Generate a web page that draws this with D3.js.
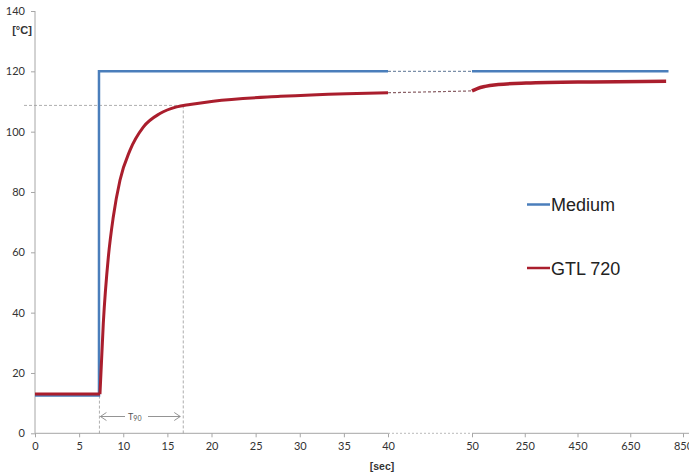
<!DOCTYPE html>
<html>
<head>
<meta charset="utf-8">
<script src="https://cdn.jsdelivr.net/npm/d3@7"></script>
<style>
  body { margin: 0; background: #fff; }
  .axis text { font-family: Lato, "Open Sans", sans-serif; font-size: 11px; fill: #333; }
  .axis line { stroke: #a6a6a6; }
  .axis path { display: none; }
</style>
</head>
<body>
<div id="graph"></div>
<script>
// Medium (bath) temperature, two segments either side of the axis break
var mediumTimeA = [0, 7.25, 7.25, 40];
var mediumTempA = [12.5, 12.5, 120, 120];
var mediumTimeB = [50, 795];
var mediumTempB = [120, 120];

// GTL 720 sensor reading: flat start, then the response curve
var gtlTimeFlat = [0, 7.36];
var gtlTempFlat = [13, 13];
var gtlTimeA = [7.36, 7.74, 8.31, 8.87, 9.63, 10.76, 12.27, 14.16, 16.05, 17.56, 20.2, 27.8, 35.3, 40];
var gtlTempA = [13, 36.5, 58.4, 71.7, 83.9, 93.8, 101.5, 106, 108.2, 109, 110.1, 111.7, 112.6, 112.9];
var gtlTimeB = [50, 70, 100, 150, 255, 505, 786];
var gtlTempB = [113.5, 114.3, 115.0, 115.6, 116.1, 116.5, 116.7];

var xTicks = [0, 5, 10, 15, 20, 25, 30, 35, 40, 50, 250, 450, 650, 850];
var yTicks = [0, 20, 40, 60, 80, 100, 120, 140];

// T90 marker
var t90Start = 7.3, t90End = 16.8, t90Level = 108.7;

var seriesNames = ["Medium", "GTL 720"];
var colors = { "Medium": "#4a7ebb", "GTL 720": "#aa1e2d" };

var width = 689, height = 473;

var svg = d3.select("#graph").append("svg")
    .attr("width", width)
    .attr("height", height);

// broken x axis: linear 0-40, a gap, then 50-850 compressed
var xScale = d3.scaleLinear()
    .domain([0, 40, 50, 850])
    .range([35, 388, 472, 683]);

var yScale = d3.scaleLinear()
    .domain([0, 140])
    .range([433.3, 11]);

function zip(t, v) {
    return t.map(function(d, i) { return { t: d, v: v[i] }; });
}

var line = d3.line()
    .x(function(d) { return xScale(d.t); })
    .y(function(d) { return yScale(d.v); });

var curve = d3.line()
    .x(function(d) { return xScale(d.t); })
    .y(function(d) { return yScale(d.v); })
    .curve(d3.curveMonotoneX);

// axes
svg.append("g")
    .attr("class", "y axis")
    .attr("transform", "translate(" + xScale(0) + ",0)")
    .call(d3.axisLeft(yScale).tickValues(yTicks).tickSize(4).tickPadding(6));

svg.append("g")
    .attr("class", "x axis")
    .attr("transform", "translate(0," + yScale(0) + ")")
    .call(d3.axisBottom(xScale).tickValues(xTicks).tickSize(4).tickPadding(5));

// axis lines drawn by hand so the break can be dotted
svg.append("line")
    .attr("x1", xScale(0)).attr("x2", xScale(0))
    .attr("y1", yScale(0)).attr("y2", yScale(140))
    .attr("stroke", "#a6a6a6");
svg.append("line")
    .attr("x1", xScale(0)).attr("x2", xScale(40))
    .attr("y1", yScale(0)).attr("y2", yScale(0))
    .attr("stroke", "#a6a6a6");
svg.append("line")
    .attr("x1", xScale(40)).attr("x2", xScale(50))
    .attr("y1", yScale(0)).attr("y2", yScale(0))
    .attr("stroke", "#bbb")
    .attr("stroke-dasharray", "2,2");
svg.append("line")
    .attr("x1", xScale(50)).attr("x2", width)
    .attr("y1", yScale(0)).attr("y2", yScale(0))
    .attr("stroke", "#a6a6a6");

// unit labels
svg.append("text")
    .attr("x", 22).attr("y", 34)
    .attr("text-anchor", "middle")
    .style("font-family", "\"Liberation Sans\", Arial, sans-serif")
    .style("font-size", "11px")
    .style("font-weight", "bold")
    .style("fill", "#333")
    .text("[°C]");

svg.append("text")
    .attr("x", 382).attr("y", 470)
    .attr("text-anchor", "middle")
    .style("font-family", "\"Liberation Sans\", Arial, sans-serif")
    .style("font-size", "10.5px")
    .style("font-weight", "bold")
    .style("fill", "#333")
    .text("[sec]");

// T90 guide lines
var guide = svg.append("g")
    .attr("stroke", "#999")
    .attr("stroke-width", 0.8)
    .attr("stroke-dasharray", "3,2");
guide.append("line")
    .attr("x1", 24).attr("x2", xScale(t90End))
    .attr("y1", yScale(t90Level)).attr("y2", yScale(t90Level));
guide.append("line")
    .attr("x1", xScale(t90End)).attr("x2", xScale(t90End))
    .attr("y1", yScale(t90Level)).attr("y2", yScale(0));
guide.append("line")
    .attr("x1", xScale(t90Start)).attr("x2", xScale(t90Start))
    .attr("y1", yScale(12.5)).attr("y2", yScale(0));

// T90 arrows
var arrowY = 416.5;
var arrows = svg.append("g")
    .attr("stroke", "#888")
    .attr("stroke-width", 0.9)
    .attr("fill", "none");
var ax0 = xScale(t90Start) + 1, ax1 = xScale(t90End) - 3;
arrows.append("line").attr("x1", ax0).attr("x2", 125).attr("y1", arrowY).attr("y2", arrowY);
arrows.append("path").attr("d", "M" + (ax0 + 6) + "," + (arrowY - 4) + "L" + ax0 + "," + arrowY + "L" + (ax0 + 6) + "," + (arrowY + 4));
arrows.append("line").attr("x1", 148).attr("x2", ax1).attr("y1", arrowY).attr("y2", arrowY);
arrows.append("path").attr("d", "M" + (ax1 - 6) + "," + (arrowY - 4) + "L" + ax1 + "," + arrowY + "L" + (ax1 - 6) + "," + (arrowY + 4));

var t90 = svg.append("text")
    .attr("x", 128).attr("y", arrowY + 3)
    .style("font-family", "Lato, sans-serif")
    .style("font-size", "9px")
    .style("fill", "#555");
t90.append("tspan").text("T");
t90.append("tspan").attr("dy", 1).style("font-size", "7px").text("90");

// gap connectors across the axis break
svg.append("line")
    .attr("x1", xScale(40)).attr("x2", xScale(50))
    .attr("y1", yScale(mediumTempA[mediumTempA.length - 1])).attr("y2", yScale(mediumTempB[0]))
    .attr("stroke", "#7b8fa8")
    .attr("stroke-width", 1.2)
    .attr("stroke-dasharray", "3,2");
svg.append("line")
    .attr("x1", xScale(40)).attr("x2", xScale(50))
    .attr("y1", yScale(gtlTempA[gtlTempA.length - 1])).attr("y2", yScale(gtlTempB[0]))
    .attr("stroke", "#8a6066")
    .attr("stroke-width", 1.2)
    .attr("stroke-dasharray", "3,2");

// Medium series
[[mediumTimeA, mediumTempA], [mediumTimeB, mediumTempB]].forEach(function(s) {
    svg.append("path")
        .datum(zip(s[0], s[1]))
        .attr("d", line)
        .attr("fill", "none")
        .attr("stroke", colors["Medium"])
        .attr("stroke-width", 2.5);
});

// GTL 720 series
svg.append("path")
    .datum(zip(gtlTimeFlat, gtlTempFlat))
    .attr("d", line)
    .attr("fill", "none")
    .attr("stroke", colors["GTL 720"])
    .attr("stroke-width", 3);
svg.append("path")
    .datum(zip(gtlTimeA, gtlTempA))
    .attr("d", curve)
    .attr("fill", "none")
    .attr("stroke", colors["GTL 720"])
    .attr("stroke-width", 3)
    .attr("stroke-linejoin", "round");
svg.append("path")
    .datum(zip(gtlTimeB, gtlTempB))
    .attr("d", curve)
    .attr("fill", "none")
    .attr("stroke", colors["GTL 720"])
    .attr("stroke-width", 3.5);

// legend
var legend = svg.selectAll(".legend")
    .data(seriesNames)
    .enter().append("g")
    .attr("class", "legend")
    .attr("transform", function(d, i) { return "translate(527," + (204.5 + i * 63.5) + ")"; });
legend.append("line")
    .attr("x1", 0).attr("x2", 23)
    .attr("stroke", function(d) { return colors[d]; })
    .attr("stroke-width", 2.5);
legend.append("text")
    .attr("x", 24).attr("y", 6.5)
    .style("font-family", "\"Liberation Sans\", Arial, sans-serif")
    .style("font-size", "18px")
    .style("fill", "#222")
    .text(function(d) { return d; });
</script>
</body>
</html>
